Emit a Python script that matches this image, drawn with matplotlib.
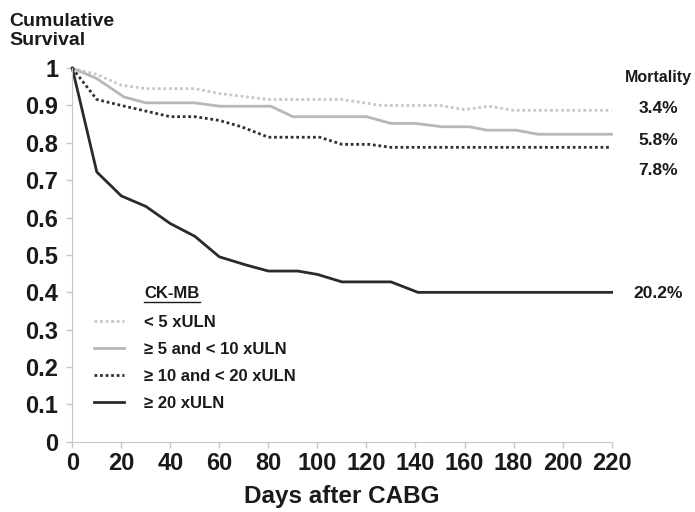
import matplotlib.pyplot as plt
from matplotlib.lines import Line2D

plt.rcParams['font.family'] = ['Liberation Sans', 'DejaVu Sans']
plt.rcParams['font.weight'] = 'bold'

# < 5 xULN
days_a = [0, 10, 20, 30, 50, 60, 80, 110, 126, 150, 160, 170, 180, 220]
surv_a = [1.0, 0.983, 0.954, 0.945, 0.945, 0.932, 0.916, 0.916, 0.900, 0.900, 0.889, 0.898, 0.887, 0.887]
# >= 5 and < 10 xULN
days_b = [0, 10, 21, 30, 50, 60, 81, 90, 120, 130, 140, 151, 162, 169, 181, 190, 220]
surv_b = [1.0, 0.972, 0.923, 0.907, 0.907, 0.898, 0.898, 0.870, 0.870, 0.852, 0.852, 0.843, 0.843, 0.834, 0.834, 0.823, 0.823]
# >= 10 and < 20 xULN
days_c = [0, 10, 20, 30, 40, 50, 60, 69, 80, 101, 110, 121, 130, 220]
surv_c = [1.0, 0.916, 0.900, 0.885, 0.870, 0.870, 0.860, 0.843, 0.815, 0.815, 0.796, 0.796, 0.788, 0.788]
# >= 20 xULN
days_d = [0, 10, 20, 30, 40, 50, 60, 71, 80, 92, 100, 110, 130, 141, 220]
surv_d = [1.0, 0.722, 0.658, 0.630, 0.584, 0.550, 0.495, 0.473, 0.457, 0.457, 0.448, 0.428, 0.428, 0.400, 0.400]

labels = ['< 5 xULN', '≥ 5 and < 10 xULN', '≥ 10 and < 20 xULN', '≥ 20 xULN']
mortality = ['3.4%', '5.8%', '7.8%', '20.2%']
mort_y = [0.893, 0.807, 0.727, 0.398]

fig = plt.figure(figsize=(6.95, 5.12), dpi=100)
ax = fig.add_axes([0.104, 0.137, 0.776, 0.730])

styles = [
    dict(color='#c8c8c8', linestyle=(0, (1, 1)), linewidth=2),
    dict(color='#b8b8b8', linestyle='-', linewidth=2),
    dict(color='#303030', linestyle=(0, (1, 1)), linewidth=2),
    dict(color='#2a2a2a', linestyle='-', linewidth=2),
]
series = [(days_a, surv_a), (days_b, surv_b), (days_c, surv_c), (days_d, surv_d)]
for (d, s), st in zip(series, styles):
    ax.plot(d, s, clip_on=False, **st)

ax.set_xlim(0, 220)
ax.set_ylim(0, 1)
ax.set_xticks(range(0, 221, 20))
ax.set_yticks([i / 10 for i in range(11)])
ax.set_yticklabels(['0'] + ['0.%d' % i for i in range(1, 10)] + ['1'])
for sp in ['top', 'right']:
    ax.spines[sp].set_visible(False)
for sp in ['left', 'bottom']:
    ax.spines[sp].set_color('#c8c8c8')
ax.tick_params(colors='#c8c8c8', length=4, width=1)
for t in ax.get_yticklabels():
    t.set_color('#1a1a1a')
    t.set_fontsize(17)
for t in ax.get_xticklabels():
    t.set_color('#1a1a1a')
    t.set_fontsize(17)
ax.tick_params(axis='y', pad=6)

ax.set_xlabel('Days after CABG', fontsize=17.5, color='#1a1a1a', fontweight='bold',
              labelpad=7)
fig.text(0.014, 0.975, 'Cumulative\nSurvival', fontsize=14, va='top', ha='left',
         color='#1a1a1a', linespacing=1.15)

# mortality annotations
tr = ax.get_yaxis_transform()
ax.text(1.086, 0.976, 'Mortality', transform=tr, fontsize=11.5,
        ha='center', va='center', color='#1a1a1a')
for m, y in zip(mortality, mort_y):
    ax.text(1.086, y, m, transform=tr, fontsize=12.5,
            ha='center', va='center', color='#1a1a1a')

# legend
handles = [Line2D([], [], **st) for st in styles]
leg = ax.legend(handles, labels, loc='upper left',
                bbox_to_anchor=(0.013, 0.38), frameon=False, fontsize=12,
                handlelength=1.8, handletextpad=1.2, labelspacing=0.73)
for t in leg.get_texts():
    t.set_color('#1a1a1a')
fig.canvas.draw()
tx0 = leg.get_texts()[0].get_window_extent().transformed(fig.transFigure.inverted()).x0
head = fig.text(tx0, 1 - 293 / 512, 'CK-MB', fontsize=12, va='center', ha='left',
                color='#1a1a1a')
fig.canvas.draw()
hb = head.get_window_extent().transformed(fig.transFigure.inverted())
fig.add_artist(Line2D([hb.x0, hb.x1], [hb.y0 - 0.003, hb.y0 - 0.003],
                      transform=fig.transFigure, color='#1a1a1a', linewidth=1))

fig.savefig('out.png', dpi=100)
